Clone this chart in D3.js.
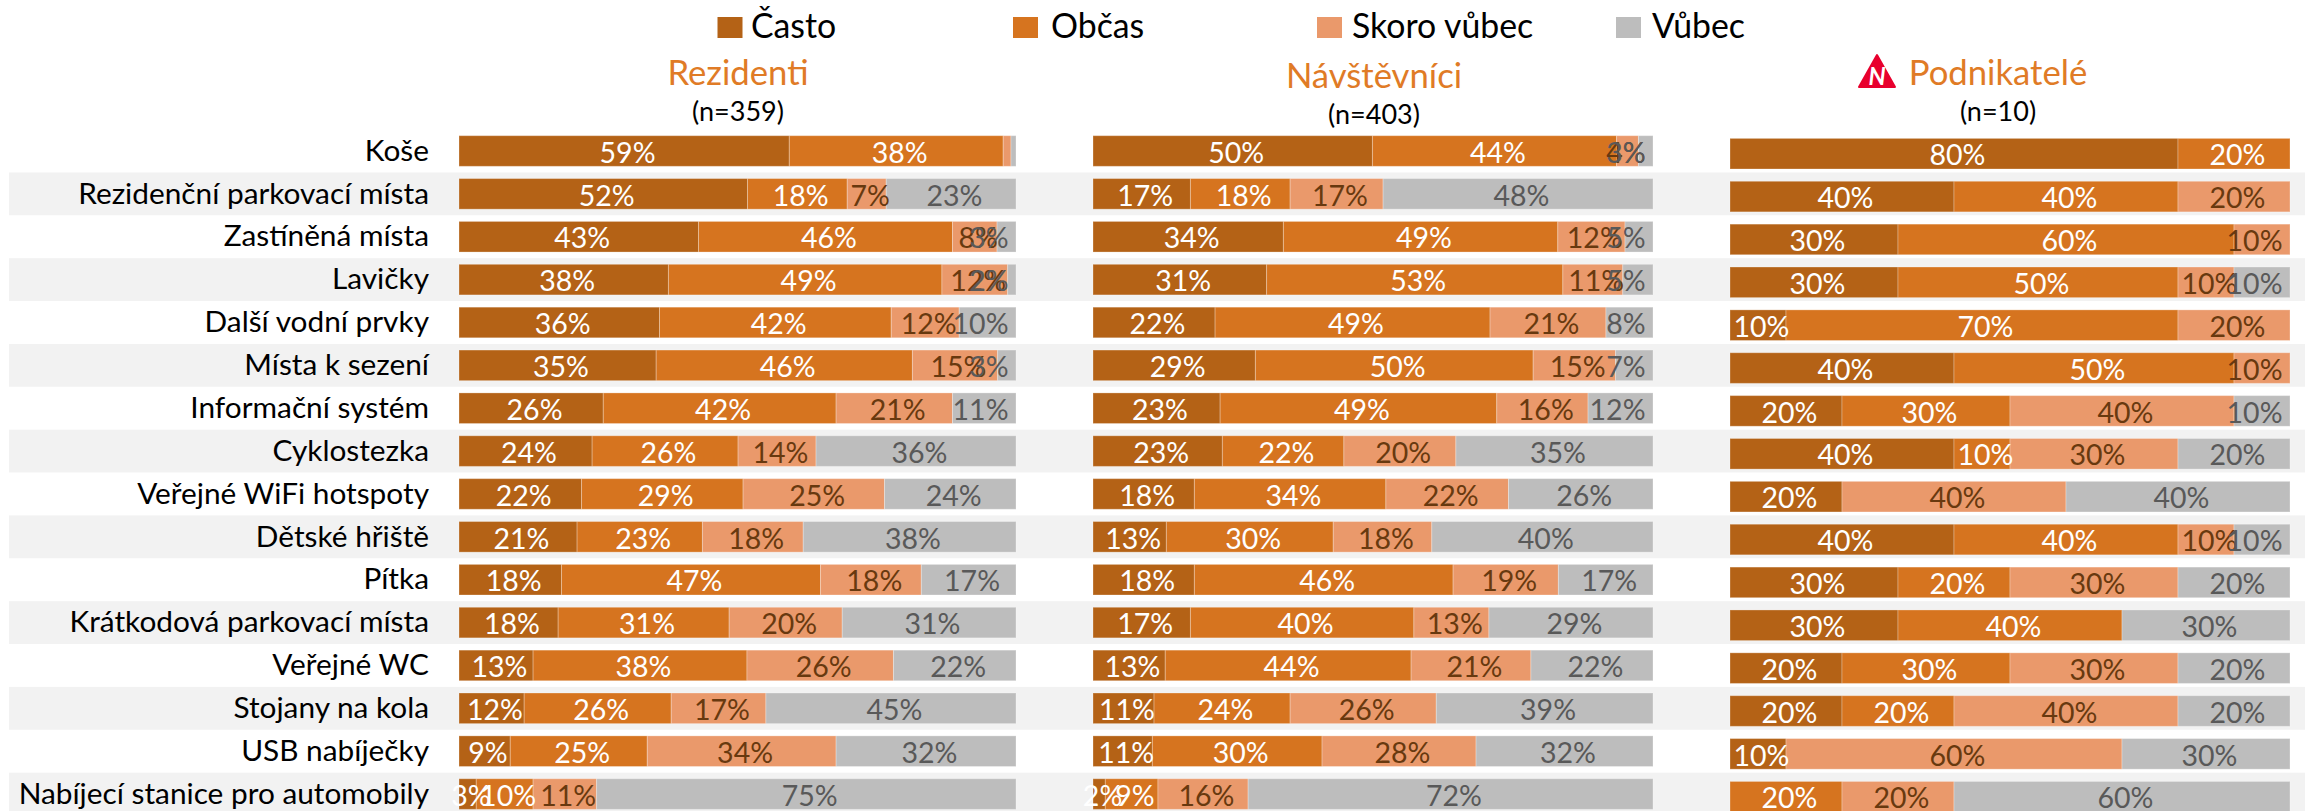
<!DOCTYPE html>
<html><head><meta charset="utf-8">
<script src="https://cdn.jsdelivr.net/npm/d3@7"></script>
<style>html,body{margin:0;padding:0;background:#fff;overflow:hidden}svg{display:block}text{font-family:Lato,"Open Sans",sans-serif}</style>
</head><body><svg id="c" width="2305" height="811"></svg>
<script>
const categories=["Koše","Rezidenční parkovací místa","Zastíněná místa","Lavičky","Další vodní prvky","Místa k sezení","Informační systém","Cyklostezka","Veřejné WiFi hotspoty","Dětské hřiště","Pítka","Krátkodová parkovací místa","Veřejné WC","Stojany na kola","USB nabíječky","Nabíjecí stanice pro automobily"];
const seriesNames=["Často","Občas","Skoro vůbec","Vůbec"];
const seriesColors=["#b46216","#d6741f","#ea996b","#bdbdbd"];
const labelColors=["#ffffff","#ffffff","#68390f","#595959"];
const rezidenti=[[59.3,38.4,1.4,0.9],[51.8,17.9,7,23.3],[43,45.6,8,3.4],[37.6,49.1,11.8,1.5],[36,41.6,12.2,10.2],[35.4,46,15.3,3.3],[25.9,41.8,20.9,11.4],[23.9,26.2,14,35.9],[22,29,25.4,23.6],[21.2,22.5,18.1,38.2],[18.4,46.5,18.1,17],[17.8,30.7,20.3,31.2],[13.3,38.4,26.3,22],[11.7,26.4,17,44.9],[9.2,24.6,33.9,32.3],[3.1,10.2,11.4,75.3]];
const navstevnici=[[49.9,43.6,3.9,2.6],[17.4,17.8,16.6,48.2],[34,49,12,5],[31,52.9,10.7,5.4],[21.8,49.1,20.7,8.4],[29,49.6,14.7,6.7],[22.7,49.4,16.3,11.6],[23.1,21.7,20,35.2],[18.1,34.2,21.9,25.8],[13.1,29.8,17.6,39.5],[18.1,46.2,18.8,16.9],[17.4,39.9,13.4,29.3],[12.9,43.9,21.4,21.8],[10.9,24.3,26.1,38.7],[10.6,30.3,27.5,31.6],[2.2,9.4,16.1,72.3]];
const podnikatele=[[80,20,0,0],[40,40,20,0],[30,60,10,0],[30,50,10,10],[10,70,20,0],[40,50,10,0],[20,30,40,10],[40,10,30,20],[20,0,40,40],[40,40,10,10],[30,20,30,20],[30,40,0,30],[20,30,30,20],[20,20,40,20],[10,0,60,30],[0,20,20,60]];
const panels=[
 {title:"Rezidenti",n:"(n=359)",rows:rezidenti,x0:459,x1:1016,dy:0,cx:738,ty:84.5,ny:121},
 {title:"Návštěvníci",n:"(n=403)",rows:navstevnici,x0:1093,x1:1653,dy:0,cx:1374,ty:87.5,ny:124},
 {title:"Podnikatelé",n:"(n=10)",rows:podnikatele,x0:1730,x1:2290,dy:2.7,cx:1998,ty:84.5,ny:121}];
const legendX=[717.5,1013,1317,1616], legendTextX=[751,1051,1352,1652];
const labelMin=1.45;
const svg=d3.select("#c");
const rowStep=42.87, barTop=135.7, barH=30.6;
const y=d3.scaleBand().domain(categories).range([barTop-(rowStep-barH)/2,barTop-(rowStep-barH)/2+rowStep*categories.length]).paddingInner((rowStep-barH)/rowStep).paddingOuter((rowStep-barH)/rowStep/2);
svg.append("g").selectAll("rect").data(categories.filter((d,i)=>i%2==1)).join("rect")
 .attr("x",9).attr("width",2296).attr("y",d=>y(d)+barH/2-21.4).attr("height",42.8).attr("fill","#f2f2f2");
const lg=svg.append("g");
seriesNames.forEach((s,i)=>{
 lg.append("rect").attr("x",legendX[i]).attr("y",17).attr("width",25).attr("height",21).attr("fill",seriesColors[i]);
 lg.append("text").attr("x",legendTextX[i]).attr("y",38).attr("font-size",33.8).attr("fill","#000").text(s);
});
svg.append("g").selectAll("text").data(categories).join("text")
 .attr("x",429).attr("y",d=>y(d)+25).attr("text-anchor","end").attr("font-size",29.8).attr("fill","#000").text(d=>d);
const stack=d3.stack().keys([0,1,2,3]);
panels.forEach(p=>{
 const x=d3.scaleLinear().domain([0,100]).range([p.x0,p.x1]);
 const g=svg.append("g").attr("transform",`translate(0,${p.dy})`);
 const layers=stack(p.rows);
 layers.forEach((layer,k)=>{
  g.append("g").selectAll("rect").data(layer).join("rect")
   .attr("x",d=>x(d[0])).attr("width",d=>x(d[1])-x(d[0]))
   .attr("y",(d,i)=>y(categories[i])).attr("height",y.bandwidth())
   .attr("fill",seriesColors[k]).attr("stroke","#fff").attr("stroke-opacity",.28).attr("stroke-width",1)
   .attr("display",d=>d[1]-d[0]>0?null:"none");
 });
 layers.forEach((layer,k)=>{
  g.append("g").selectAll("text").data(layer.filter(d=>d[1]-d[0]>=labelMin)).join("text")
   .attr("y",d=>y(categories[layer.indexOf(d)])+27)
   .attr("text-anchor","middle").attr("font-size",28.5).attr("fill",labelColors[k])
   .text(d=>Math.round(d[1]-d[0])+"%")
   .attr("x",function(d){
     const half=this.getComputedTextLength()/2;
     return Math.min((x(d[0])+x(d[1]))/2+3.4,p.x1-7.5-half);
   });
 });
 svg.append("text").attr("x",p.cx).attr("y",p.ty).attr("text-anchor","middle").attr("font-size",34.7).attr("fill","#e07b26").text(p.title);
 svg.append("text").attr("x",p.cx).attr("y",p.ny).attr("text-anchor","middle").attr("font-size",27).attr("fill","#000").text(p.n);
});
const logo=svg.append("g");
logo.append("path").attr("d",d3.line()([[1877,55],[1895,87],[1859,87]])+"Z").attr("fill","#e8002d").attr("stroke","#e8002d").attr("stroke-width",2).attr("stroke-linejoin","round");
logo.append("text").attr("x",1877).attr("y",85).attr("text-anchor","middle").attr("font-size",24).attr("font-style","italic").attr("font-weight",700).attr("fill","#fff").text("N");
</script></body></html>
